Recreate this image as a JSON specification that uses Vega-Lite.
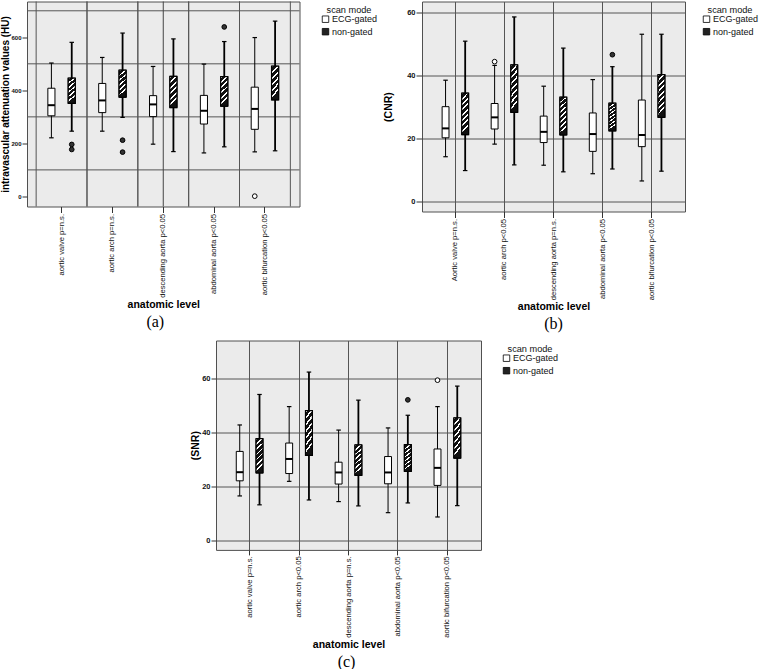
{
  "$schema": "https://vega.github.io/schema/vega-lite/v6.json",
  "padding": {"left": 0, "top": 0.5, "right": 0, "bottom": 0},
  "autosize": {"type": "pad"},
  "background": "white",
  "datasets": {
    "hu": [
      {"level": "aortic valve p=n.s.", "mode": "ECG-gated", "lo": 221, "q1": 304, "med": 344, "q3": 408, "hi": 503},
      {"level": "aortic valve p=n.s.", "mode": "non-gated", "lo": 246, "q1": 351, "med": 400, "q3": 446, "hi": 581},
      {"level": "aortic arch p=n.s.", "mode": "ECG-gated", "lo": 246, "q1": 316, "med": 362, "q3": 426, "hi": 524},
      {"level": "aortic arch p=n.s.", "mode": "non-gated", "lo": 298, "q1": 374, "med": 420, "q3": 476, "hi": 616},
      {"level": "descending aorta p<0.05", "mode": "ECG-gated", "lo": 197, "q1": 301, "med": 347, "q3": 380, "hi": 490},
      {"level": "descending aorta p<0.05", "mode": "non-gated", "lo": 169, "q1": 335, "med": 400, "q3": 453, "hi": 594},
      {"level": "abdominal aorta p<0.05", "mode": "ECG-gated", "lo": 164, "q1": 273, "med": 323, "q3": 381, "hi": 499},
      {"level": "abdominal aorta p<0.05", "mode": "non-gated", "lo": 187, "q1": 340, "med": 400, "q3": 452, "hi": 584},
      {"level": "aortic bifurcation p<0.05", "mode": "ECG-gated", "lo": 168, "q1": 253, "med": 330, "q3": 412, "hi": 599},
      {"level": "aortic bifurcation p<0.05", "mode": "non-gated", "lo": 172, "q1": 364, "med": 430, "q3": 491, "hi": 661}
    ],
    "hu_out": [
      {"level": "aortic valve p=n.s.", "mode": "non-gated", "v": 196},
      {"level": "aortic valve p=n.s.", "mode": "non-gated", "v": 177},
      {"level": "aortic arch p=n.s.", "mode": "non-gated", "v": 212},
      {"level": "aortic arch p=n.s.", "mode": "non-gated", "v": 167},
      {"level": "abdominal aorta p<0.05", "mode": "non-gated", "v": 639},
      {"level": "aortic bifurcation p<0.05", "mode": "ECG-gated", "v": 1}
    ],
    "cnr": [
      {"level": "Aortic valve p=n.s.", "mode": "ECG-gated", "lo": 14.2, "q1": 20.2, "med": 23.2, "q3": 30.1, "hi": 38.5},
      {"level": "Aortic valve p=n.s.", "mode": "non-gated", "lo": 9.8, "q1": 21.2, "med": 27, "q3": 34.4, "hi": 50.9},
      {"level": "aortic arch p<0.05", "mode": "ECG-gated", "lo": 18.2, "q1": 23.0, "med": 26.7, "q3": 31.1, "hi": 43.2},
      {"level": "aortic arch p<0.05", "mode": "non-gated", "lo": 11.6, "q1": 28.3, "med": 37, "q3": 43.4, "hi": 58.6},
      {"level": "descending aorta p=n.s.", "mode": "ECG-gated", "lo": 11.5, "q1": 18.7, "med": 22.1, "q3": 27.1, "hi": 36.6},
      {"level": "descending aorta p=n.s.", "mode": "non-gated", "lo": 9.4, "q1": 21.1, "med": 27, "q3": 33.1, "hi": 48.7},
      {"level": "abdominal aorta p<0.05", "mode": "ECG-gated", "lo": 8.8, "q1": 15.9, "med": 21.4, "q3": 28.1, "hi": 38.7},
      {"level": "abdominal aorta p<0.05", "mode": "non-gated", "lo": 10.3, "q1": 22.4, "med": 27, "q3": 31.2, "hi": 42.8},
      {"level": "aortic bifurcation p<0.05", "mode": "ECG-gated", "lo": 6.5, "q1": 17.4, "med": 21.1, "q3": 32.2, "hi": 53.1},
      {"level": "aortic bifurcation p<0.05", "mode": "non-gated", "lo": 9.6, "q1": 26.7, "med": 35, "q3": 40.3, "hi": 53.1}
    ],
    "cnr_out": [
      {"level": "aortic arch p<0.05", "mode": "ECG-gated", "v": 44.4},
      {"level": "abdominal aorta p<0.05", "mode": "non-gated", "v": 46.6}
    ],
    "snr": [
      {"level": "aortic valve p=n.s.", "mode": "ECG-gated", "lo": 16.5, "q1": 22.1, "med": 25.3, "q3": 33.0, "hi": 42.8},
      {"level": "aortic valve p=n.s.", "mode": "non-gated", "lo": 13.2, "q1": 25.0, "med": 31, "q3": 37.7, "hi": 54.1},
      {"level": "aortic arch p<0.05", "mode": "ECG-gated", "lo": 21.9, "q1": 24.8, "med": 30.2, "q3": 36.1, "hi": 49.6},
      {"level": "aortic arch p<0.05", "mode": "non-gated", "lo": 15.0, "q1": 31.5, "med": 40, "q3": 48.1, "hi": 62.4},
      {"level": "descending aorta p=n.s.", "mode": "ECG-gated", "lo": 14.4, "q1": 20.9, "med": 25.2, "q3": 29.0, "hi": 40.9},
      {"level": "descending aorta p=n.s.", "mode": "non-gated", "lo": 12.8, "q1": 24.1, "med": 30, "q3": 35.4, "hi": 52.0},
      {"level": "abdominal aorta p<0.05", "mode": "ECG-gated", "lo": 10.3, "q1": 21.0, "med": 25.2, "q3": 31.1, "hi": 41.7},
      {"level": "abdominal aorta p<0.05", "mode": "non-gated", "lo": 13.9, "q1": 25.6, "med": 30, "q3": 35.5, "hi": 46.4},
      {"level": "aortic bifurcation p<0.05", "mode": "ECG-gated", "lo": 8.7, "q1": 20.4, "med": 26.9, "q3": 33.9, "hi": 49.6},
      {"level": "aortic bifurcation p<0.05", "mode": "non-gated", "lo": 12.9, "q1": 30.5, "med": 38, "q3": 45.4, "hi": 57.2}
    ],
    "snr_out": [
      {"level": "abdominal aorta p<0.05", "mode": "non-gated", "v": 52.1},
      {"level": "aortic bifurcation p<0.05", "mode": "ECG-gated", "v": 59.4}
    ]
  },
  "spacing": 6,
  "bounds": "full",
  "resolve": {
    "scale": {"x": "independent", "y": "independent", "xOffset": "independent", "fill": "independent"},
    "legend": {"fill": "independent"}
  },
  "vconcat": [
    {
      "spacing": 122,
      "bounds": "flush",
      "resolve": {
        "scale": {"x": "independent", "y": "independent", "xOffset": "independent", "fill": "independent"},
        "legend": {"fill": "independent"}
      },
      "hconcat": [
        {
          "width": 272.5,
          "height": 205,
          "data": {"name": "hu"},
          "title": {"text": "(a)", "orient": "bottom", "offset": 4, "frame": "group", "anchor": "middle", "dx": -8, "font": "Liberation Serif", "fontSize": 16, "fontWeight": "normal", "color": "#000"},
          "layer": [
            {
              "data": {"values": [{"ref": 100}, {"ref": 300}, {"ref": 500}, {"ref": 700}]},
              "mark": {"type": "rule", "color": "#555", "strokeWidth": 1},
              "encoding": {"y": {"field": "ref", "type": "quantitative", "scale": {"domain": [-38, 735], "nice": false, "zero": false}}}
            },
            {
              "transform": [{"filter": "datum.mode === 'ECG-gated'"}],
              "mark": {"type": "rule", "color": "#555", "strokeWidth": 1},
              "encoding": {"x": {"field": "level", "type": "nominal", "bandPosition": 0, "scale": {"domain": ["aortic valve p=n.s.", "aortic arch p=n.s.", "descending aorta p<0.05", "abdominal aorta p<0.05", "aortic bifurcation p<0.05"], "paddingInner": 0, "paddingOuter": 0.18}}}
            },
            {
              "transform": [{"filter": "datum.mode === 'ECG-gated'"}],
              "mark": {"type": "rule", "color": "#555", "strokeWidth": 1},
              "encoding": {"x": {"field": "level", "type": "nominal", "bandPosition": 1, "scale": {"domain": ["aortic valve p=n.s.", "aortic arch p=n.s.", "descending aorta p<0.05", "abdominal aorta p<0.05", "aortic bifurcation p<0.05"], "paddingInner": 0, "paddingOuter": 0.18}}}
            },
            {
              "transform": [{"filter": "datum.mode === 'ECG-gated' && datum.level === 'descending aorta p<0.05'"}],
              "mark": {"type": "rule", "color": "#444", "strokeWidth": 1},
              "encoding": {"x": {"field": "level", "type": "nominal", "bandPosition": 0.5, "scale": {"domain": ["aortic valve p=n.s.", "aortic arch p=n.s.", "descending aorta p<0.05", "abdominal aorta p<0.05", "aortic bifurcation p<0.05"], "paddingInner": 0, "paddingOuter": 0.18}}}
            },
            {
              "mark": {"type": "rule", "color": "#000"},
              "encoding": {
                "x": {"field": "level", "type": "nominal", "scale": {"domain": ["aortic valve p=n.s.", "aortic arch p=n.s.", "descending aorta p<0.05", "abdominal aorta p<0.05", "aortic bifurcation p<0.05"], "paddingInner": 0, "paddingOuter": 0.18}},
                "xOffset": {"field": "mode", "type": "nominal", "scale": {"domain": ["ECG-gated", "non-gated"], "paddingInner": 0.65, "paddingOuter": 0.575}},
                "y": {"field": "lo", "type": "quantitative", "scale": {"domain": [-38, 735], "nice": false, "zero": false}},
                "y2": {"field": "hi"},
                "strokeWidth": {"condition": {"test": "datum.mode === 'non-gated'", "value": 1.8}, "value": 1}
              }
            },
            {
              "mark": {"type": "tick", "orient": "horizontal", "size": 4.5, "thickness": 1.2, "color": "#000", "opacity": 1},
              "encoding": {
                "x": {"field": "level", "type": "nominal", "scale": {"domain": ["aortic valve p=n.s.", "aortic arch p=n.s.", "descending aorta p<0.05", "abdominal aorta p<0.05", "aortic bifurcation p<0.05"], "paddingInner": 0, "paddingOuter": 0.18}},
                "xOffset": {"field": "mode", "type": "nominal", "scale": {"domain": ["ECG-gated", "non-gated"], "paddingInner": 0.65, "paddingOuter": 0.575}},
                "y": {"field": "lo", "type": "quantitative", "scale": {"domain": [-38, 735], "nice": false, "zero": false}}
              }
            },
            {
              "mark": {"type": "tick", "orient": "horizontal", "size": 4.5, "thickness": 1.2, "color": "#000", "opacity": 1},
              "encoding": {
                "x": {"field": "level", "type": "nominal", "scale": {"domain": ["aortic valve p=n.s.", "aortic arch p=n.s.", "descending aorta p<0.05", "abdominal aorta p<0.05", "aortic bifurcation p<0.05"], "paddingInner": 0, "paddingOuter": 0.18}},
                "xOffset": {"field": "mode", "type": "nominal", "scale": {"domain": ["ECG-gated", "non-gated"], "paddingInner": 0.65, "paddingOuter": 0.575}},
                "y": {"field": "hi", "type": "quantitative", "scale": {"domain": [-38, 735], "nice": false, "zero": false}}
              }
            },
            {
              "mark": {"type": "bar", "stroke": "#000", "strokeWidth": 1},
              "encoding": {
                "x": {"field": "level", "type": "nominal", "scale": {"domain": ["aortic valve p=n.s.", "aortic arch p=n.s.", "descending aorta p<0.05", "abdominal aorta p<0.05", "aortic bifurcation p<0.05"], "paddingInner": 0, "paddingOuter": 0.18},
                  "axis": {"title": "anatomic level", "labelAngle": 270, "labelFontSize": 7.6, "tickSize": 6, "labelPadding": 1, "titlePadding": 2, "titleFontSize": 10.5, "grid": false}},
                "xOffset": {"field": "mode", "type": "nominal", "scale": {"domain": ["ECG-gated", "non-gated"], "paddingInner": 0.65, "paddingOuter": 0.575}},
                "y": {"field": "q1", "type": "quantitative", "scale": {"domain": [-38, 735], "nice": false, "zero": false},
                  "axis": {"title": "intravascular attenuation values (HU)", "values": [0, 200, 400, 600], "grid": false, "tickSize": 5, "labelPadding": 1, "labelFontSize": 6, "labelFontWeight": "bold", "titlePadding": 0, "titleFontSize": 10}},
                "y2": {"field": "q3"},
                "fill": {"field": "mode", "type": "nominal", "scale": {"domain": ["ECG-gated", "non-gated"], "range": ["#ffffff", "#222222"]}, "legend": {"title": "scan mode"}}
              }
            },
            {
              "transform": [{"filter": "datum.mode === 'non-gated'"}],
              "mark": {"type": "bar", "stroke": "#000", "strokeWidth": 1.2, "fill": {"gradient": "linear", "x1": 0, "y1": 0, "x2": 0.23, "y2": 1, "stops": [{"offset": 0, "color": "#fff"}, {"offset": 0.06, "color": "#fff"}, {"offset": 0.06, "color": "#111"}, {"offset": 0.1667, "color": "#111"}, {"offset": 0.1667, "color": "#fff"}, {"offset": 0.2267, "color": "#fff"}, {"offset": 0.2267, "color": "#111"}, {"offset": 0.3333, "color": "#111"}, {"offset": 0.3333, "color": "#fff"}, {"offset": 0.3933, "color": "#fff"}, {"offset": 0.3933, "color": "#111"}, {"offset": 0.5, "color": "#111"}, {"offset": 0.5, "color": "#fff"}, {"offset": 0.56, "color": "#fff"}, {"offset": 0.56, "color": "#111"}, {"offset": 0.6667, "color": "#111"}, {"offset": 0.6667, "color": "#fff"}, {"offset": 0.7267, "color": "#fff"}, {"offset": 0.7267, "color": "#111"}, {"offset": 0.8333, "color": "#111"}, {"offset": 0.8333, "color": "#fff"}, {"offset": 0.8933, "color": "#fff"}, {"offset": 0.8933, "color": "#111"}, {"offset": 1, "color": "#111"}]}},
              "encoding": {
                "x": {"field": "level", "type": "nominal", "scale": {"domain": ["aortic valve p=n.s.", "aortic arch p=n.s.", "descending aorta p<0.05", "abdominal aorta p<0.05", "aortic bifurcation p<0.05"], "paddingInner": 0, "paddingOuter": 0.18}},
                "xOffset": {"field": "mode", "type": "nominal", "scale": {"domain": ["ECG-gated", "non-gated"], "paddingInner": 0.65, "paddingOuter": 0.575}},
                "y": {"field": "q1", "type": "quantitative", "scale": {"domain": [-38, 735], "nice": false, "zero": false}},
                "y2": {"field": "q3"}
              }
            },
            {
              "transform": [{"filter": "datum.mode === 'ECG-gated'"}],
              "mark": {"type": "tick", "orient": "horizontal", "size": 7, "thickness": 2, "color": "#000", "opacity": 1},
              "encoding": {
                "x": {"field": "level", "type": "nominal", "scale": {"domain": ["aortic valve p=n.s.", "aortic arch p=n.s.", "descending aorta p<0.05", "abdominal aorta p<0.05", "aortic bifurcation p<0.05"], "paddingInner": 0, "paddingOuter": 0.18}},
                "xOffset": {"field": "mode", "type": "nominal", "scale": {"domain": ["ECG-gated", "non-gated"], "paddingInner": 0.65, "paddingOuter": 0.575}},
                "y": {"field": "med", "type": "quantitative", "scale": {"domain": [-38, 735], "nice": false, "zero": false}}
              }
            },
            {
              "data": {"name": "hu_out"},
              "mark": {"type": "point", "shape": "circle", "filled": true, "size": 22, "stroke": "#000", "strokeWidth": 1, "opacity": 1},
              "encoding": {
                "x": {"field": "level", "type": "nominal", "scale": {"domain": ["aortic valve p=n.s.", "aortic arch p=n.s.", "descending aorta p<0.05", "abdominal aorta p<0.05", "aortic bifurcation p<0.05"], "paddingInner": 0, "paddingOuter": 0.18}},
                "xOffset": {"field": "mode", "type": "nominal", "scale": {"domain": ["ECG-gated", "non-gated"], "paddingInner": 0.65, "paddingOuter": 0.575}},
                "y": {"field": "v", "type": "quantitative", "scale": {"domain": [-38, 735], "nice": false, "zero": false}},
                "fill": {"condition": {"test": "datum.mode === 'ECG-gated'", "value": "#ffffff"}, "value": "#333333"}
              }
            }
          ]
        },
        {
          "width": 263,
          "height": 210,
          "data": {"name": "cnr"},
          "title": {"text": "(b)", "orient": "bottom", "offset": 4, "frame": "group", "anchor": "middle", "dx": 0, "font": "Liberation Serif", "fontSize": 16, "fontWeight": "normal", "color": "#000"},
          "layer": [
            {
              "mark": {"type": "rule", "color": "#000"},
              "encoding": {
                "x": {"field": "level", "type": "nominal", "scale": {"domain": ["Aortic valve p=n.s.", "aortic arch p<0.05", "descending aorta p=n.s.", "abdominal aorta p<0.05", "aortic bifurcation p<0.05"], "paddingInner": 0, "paddingOuter": 0.18}},
                "xOffset": {"field": "mode", "type": "nominal", "scale": {"domain": ["ECG-gated", "non-gated"], "paddingInner": 0.65, "paddingOuter": 0.575}},
                "y": {"field": "lo", "type": "quantitative", "scale": {"domain": [-3.2, 63.5], "nice": false, "zero": false}},
                "y2": {"field": "hi"},
                "strokeWidth": {"condition": {"test": "datum.mode === 'non-gated'", "value": 1.8}, "value": 1}
              }
            },
            {
              "mark": {"type": "tick", "orient": "horizontal", "size": 4.5, "thickness": 1.2, "color": "#000", "opacity": 1},
              "encoding": {
                "x": {"field": "level", "type": "nominal", "scale": {"domain": ["Aortic valve p=n.s.", "aortic arch p<0.05", "descending aorta p=n.s.", "abdominal aorta p<0.05", "aortic bifurcation p<0.05"], "paddingInner": 0, "paddingOuter": 0.18}},
                "xOffset": {"field": "mode", "type": "nominal", "scale": {"domain": ["ECG-gated", "non-gated"], "paddingInner": 0.65, "paddingOuter": 0.575}},
                "y": {"field": "lo", "type": "quantitative", "scale": {"domain": [-3.2, 63.5], "nice": false, "zero": false}}
              }
            },
            {
              "mark": {"type": "tick", "orient": "horizontal", "size": 4.5, "thickness": 1.2, "color": "#000", "opacity": 1},
              "encoding": {
                "x": {"field": "level", "type": "nominal", "scale": {"domain": ["Aortic valve p=n.s.", "aortic arch p<0.05", "descending aorta p=n.s.", "abdominal aorta p<0.05", "aortic bifurcation p<0.05"], "paddingInner": 0, "paddingOuter": 0.18}},
                "xOffset": {"field": "mode", "type": "nominal", "scale": {"domain": ["ECG-gated", "non-gated"], "paddingInner": 0.65, "paddingOuter": 0.575}},
                "y": {"field": "hi", "type": "quantitative", "scale": {"domain": [-3.2, 63.5], "nice": false, "zero": false}}
              }
            },
            {
              "mark": {"type": "bar", "stroke": "#000", "strokeWidth": 1},
              "encoding": {
                "x": {"field": "level", "type": "nominal", "scale": {"domain": ["Aortic valve p=n.s.", "aortic arch p<0.05", "descending aorta p=n.s.", "abdominal aorta p<0.05", "aortic bifurcation p<0.05"], "paddingInner": 0, "paddingOuter": 0.18},
                  "axis": {"title": "anatomic level", "labelAngle": 270, "labelFontSize": 7.6, "tickSize": 6, "labelPadding": 1, "titlePadding": 2, "titleFontSize": 10.5, "grid": true, "bandPosition": 0.5}},
                "xOffset": {"field": "mode", "type": "nominal", "scale": {"domain": ["ECG-gated", "non-gated"], "paddingInner": 0.65, "paddingOuter": 0.575}},
                "y": {"field": "q1", "type": "quantitative", "scale": {"domain": [-3.2, 63.5], "nice": false, "zero": false},
                  "axis": {"title": "(CNR)", "values": [0, 10, 20, 30, 40, 50, 60], "grid": true, "tickSize": 6, "labelPadding": 1, "labelFontSize": 7.5, "labelFontWeight": "bold", "titlePadding": 13.5, "titleFontSize": 10.5}},
                "y2": {"field": "q3"},
                "fill": {"field": "mode", "type": "nominal", "scale": {"domain": ["ECG-gated", "non-gated"], "range": ["#ffffff", "#222222"]}, "legend": {"title": "scan mode", "offset": 13}}
              }
            },
            {
              "transform": [{"filter": "datum.mode === 'non-gated'"}],
              "mark": {"type": "bar", "stroke": "#000", "strokeWidth": 1.2, "fill": {"gradient": "linear", "x1": 0, "y1": 0, "x2": 0.17, "y2": 1, "stops": [{"offset": 0, "color": "#fff"}, {"offset": 0.045, "color": "#fff"}, {"offset": 0.045, "color": "#111"}, {"offset": 0.125, "color": "#111"}, {"offset": 0.125, "color": "#fff"}, {"offset": 0.17, "color": "#fff"}, {"offset": 0.17, "color": "#111"}, {"offset": 0.25, "color": "#111"}, {"offset": 0.25, "color": "#fff"}, {"offset": 0.295, "color": "#fff"}, {"offset": 0.295, "color": "#111"}, {"offset": 0.375, "color": "#111"}, {"offset": 0.375, "color": "#fff"}, {"offset": 0.42, "color": "#fff"}, {"offset": 0.42, "color": "#111"}, {"offset": 0.5, "color": "#111"}, {"offset": 0.5, "color": "#fff"}, {"offset": 0.545, "color": "#fff"}, {"offset": 0.545, "color": "#111"}, {"offset": 0.625, "color": "#111"}, {"offset": 0.625, "color": "#fff"}, {"offset": 0.67, "color": "#fff"}, {"offset": 0.67, "color": "#111"}, {"offset": 0.75, "color": "#111"}, {"offset": 0.75, "color": "#fff"}, {"offset": 0.795, "color": "#fff"}, {"offset": 0.795, "color": "#111"}, {"offset": 0.875, "color": "#111"}, {"offset": 0.875, "color": "#fff"}, {"offset": 0.92, "color": "#fff"}, {"offset": 0.92, "color": "#111"}, {"offset": 1, "color": "#111"}]}},
              "encoding": {
                "x": {"field": "level", "type": "nominal", "scale": {"domain": ["Aortic valve p=n.s.", "aortic arch p<0.05", "descending aorta p=n.s.", "abdominal aorta p<0.05", "aortic bifurcation p<0.05"], "paddingInner": 0, "paddingOuter": 0.18}},
                "xOffset": {"field": "mode", "type": "nominal", "scale": {"domain": ["ECG-gated", "non-gated"], "paddingInner": 0.65, "paddingOuter": 0.575}},
                "y": {"field": "q1", "type": "quantitative", "scale": {"domain": [-3.2, 63.5], "nice": false, "zero": false}},
                "y2": {"field": "q3"}
              }
            },
            {
              "transform": [{"filter": "datum.mode === 'ECG-gated'"}],
              "mark": {"type": "tick", "orient": "horizontal", "size": 7, "thickness": 2, "color": "#000", "opacity": 1},
              "encoding": {
                "x": {"field": "level", "type": "nominal", "scale": {"domain": ["Aortic valve p=n.s.", "aortic arch p<0.05", "descending aorta p=n.s.", "abdominal aorta p<0.05", "aortic bifurcation p<0.05"], "paddingInner": 0, "paddingOuter": 0.18}},
                "xOffset": {"field": "mode", "type": "nominal", "scale": {"domain": ["ECG-gated", "non-gated"], "paddingInner": 0.65, "paddingOuter": 0.575}},
                "y": {"field": "med", "type": "quantitative", "scale": {"domain": [-3.2, 63.5], "nice": false, "zero": false}}
              }
            },
            {
              "data": {"name": "cnr_out"},
              "mark": {"type": "point", "shape": "circle", "filled": true, "size": 22, "stroke": "#000", "strokeWidth": 1, "opacity": 1},
              "encoding": {
                "x": {"field": "level", "type": "nominal", "scale": {"domain": ["Aortic valve p=n.s.", "aortic arch p<0.05", "descending aorta p=n.s.", "abdominal aorta p<0.05", "aortic bifurcation p<0.05"], "paddingInner": 0, "paddingOuter": 0.18}},
                "xOffset": {"field": "mode", "type": "nominal", "scale": {"domain": ["ECG-gated", "non-gated"], "paddingInner": 0.65, "paddingOuter": 0.575}},
                "y": {"field": "v", "type": "quantitative", "scale": {"domain": [-3.2, 63.5], "nice": false, "zero": false}},
                "fill": {"condition": {"test": "datum.mode === 'ECG-gated'", "value": "#ffffff"}, "value": "#333333"}
              }
            }
          ]
        }
      ]
    },
    {
      "spacing": 0,
      "bounds": "flush",
      "resolve": {
        "scale": {"x": "independent", "y": "independent", "xOffset": "independent", "fill": "independent"},
        "legend": {"fill": "independent"}
      },
      "hconcat": [
        {
          "width": 188.8,
          "height": 10,
          "view": {"fill": null, "stroke": null},
          "data": {"values": []},
          "mark": {"type": "point", "opacity": 0}
        },
        {
          "width": 265,
          "height": 209.4,
          "data": {"name": "snr"},
          "title": {"text": "(c)", "orient": "bottom", "offset": 4, "frame": "group", "anchor": "middle", "dx": -2, "font": "Liberation Serif", "fontSize": 16, "fontWeight": "normal", "color": "#000"},
          "layer": [
            {
              "mark": {"type": "rule", "color": "#000"},
              "encoding": {
                "x": {"field": "level", "type": "nominal", "scale": {"domain": ["aortic valve p=n.s.", "aortic arch p<0.05", "descending aorta p=n.s.", "abdominal aorta p<0.05", "aortic bifurcation p<0.05"], "paddingInner": 0, "paddingOuter": 0.18}},
                "xOffset": {"field": "mode", "type": "nominal", "scale": {"domain": ["ECG-gated", "non-gated"], "paddingInner": 0.65, "paddingOuter": 0.575}},
                "y": {"field": "lo", "type": "quantitative", "scale": {"domain": [-3.5, 74.1], "nice": false, "zero": false}},
                "y2": {"field": "hi"},
                "strokeWidth": {"condition": {"test": "datum.mode === 'non-gated'", "value": 1.8}, "value": 1}
              }
            },
            {
              "mark": {"type": "tick", "orient": "horizontal", "size": 4.5, "thickness": 1.2, "color": "#000", "opacity": 1},
              "encoding": {
                "x": {"field": "level", "type": "nominal", "scale": {"domain": ["aortic valve p=n.s.", "aortic arch p<0.05", "descending aorta p=n.s.", "abdominal aorta p<0.05", "aortic bifurcation p<0.05"], "paddingInner": 0, "paddingOuter": 0.18}},
                "xOffset": {"field": "mode", "type": "nominal", "scale": {"domain": ["ECG-gated", "non-gated"], "paddingInner": 0.65, "paddingOuter": 0.575}},
                "y": {"field": "lo", "type": "quantitative", "scale": {"domain": [-3.5, 74.1], "nice": false, "zero": false}}
              }
            },
            {
              "mark": {"type": "tick", "orient": "horizontal", "size": 4.5, "thickness": 1.2, "color": "#000", "opacity": 1},
              "encoding": {
                "x": {"field": "level", "type": "nominal", "scale": {"domain": ["aortic valve p=n.s.", "aortic arch p<0.05", "descending aorta p=n.s.", "abdominal aorta p<0.05", "aortic bifurcation p<0.05"], "paddingInner": 0, "paddingOuter": 0.18}},
                "xOffset": {"field": "mode", "type": "nominal", "scale": {"domain": ["ECG-gated", "non-gated"], "paddingInner": 0.65, "paddingOuter": 0.575}},
                "y": {"field": "hi", "type": "quantitative", "scale": {"domain": [-3.5, 74.1], "nice": false, "zero": false}}
              }
            },
            {
              "mark": {"type": "bar", "stroke": "#000", "strokeWidth": 1},
              "encoding": {
                "x": {"field": "level", "type": "nominal", "scale": {"domain": ["aortic valve p=n.s.", "aortic arch p<0.05", "descending aorta p=n.s.", "abdominal aorta p<0.05", "aortic bifurcation p<0.05"], "paddingInner": 0, "paddingOuter": 0.18},
                  "axis": {"title": "anatomic level", "labelAngle": 270, "labelFontSize": 7.6, "tickSize": 5, "labelPadding": 1, "titlePadding": 2, "titleFontSize": 10.5, "grid": true, "bandPosition": 0.5}},
                "xOffset": {"field": "mode", "type": "nominal", "scale": {"domain": ["ECG-gated", "non-gated"], "paddingInner": 0.65, "paddingOuter": 0.575}},
                "y": {"field": "q1", "type": "quantitative", "scale": {"domain": [-3.5, 74.1], "nice": false, "zero": false},
                  "axis": {"title": "(SNR)", "values": [0, 20, 40, 60], "grid": true, "tickSize": 5, "labelPadding": 1, "labelFontSize": 7.5, "labelFontWeight": "bold", "titlePadding": 1, "titleFontSize": 10.5}},
                "y2": {"field": "q3"},
                "fill": {"field": "mode", "type": "nominal", "scale": {"domain": ["ECG-gated", "non-gated"], "range": ["#ffffff", "#222222"]}, "legend": {"title": "scan mode"}}
              }
            },
            {
              "transform": [{"filter": "datum.mode === 'non-gated'"}],
              "mark": {"type": "bar", "stroke": "#000", "strokeWidth": 1.2, "fill": {"gradient": "linear", "x1": 0, "y1": 0, "x2": 0.2, "y2": 1, "stops": [{"offset": 0, "color": "#fff"}, {"offset": 0.05, "color": "#fff"}, {"offset": 0.05, "color": "#111"}, {"offset": 0.1429, "color": "#111"}, {"offset": 0.1429, "color": "#fff"}, {"offset": 0.1929, "color": "#fff"}, {"offset": 0.1929, "color": "#111"}, {"offset": 0.2857, "color": "#111"}, {"offset": 0.2857, "color": "#fff"}, {"offset": 0.3357, "color": "#fff"}, {"offset": 0.3357, "color": "#111"}, {"offset": 0.4286, "color": "#111"}, {"offset": 0.4286, "color": "#fff"}, {"offset": 0.4786, "color": "#fff"}, {"offset": 0.4786, "color": "#111"}, {"offset": 0.5714, "color": "#111"}, {"offset": 0.5714, "color": "#fff"}, {"offset": 0.6214, "color": "#fff"}, {"offset": 0.6214, "color": "#111"}, {"offset": 0.7143, "color": "#111"}, {"offset": 0.7143, "color": "#fff"}, {"offset": 0.7643, "color": "#fff"}, {"offset": 0.7643, "color": "#111"}, {"offset": 0.8571, "color": "#111"}, {"offset": 0.8571, "color": "#fff"}, {"offset": 0.9071, "color": "#fff"}, {"offset": 0.9071, "color": "#111"}, {"offset": 1, "color": "#111"}]}},
              "encoding": {
                "x": {"field": "level", "type": "nominal", "scale": {"domain": ["aortic valve p=n.s.", "aortic arch p<0.05", "descending aorta p=n.s.", "abdominal aorta p<0.05", "aortic bifurcation p<0.05"], "paddingInner": 0, "paddingOuter": 0.18}},
                "xOffset": {"field": "mode", "type": "nominal", "scale": {"domain": ["ECG-gated", "non-gated"], "paddingInner": 0.65, "paddingOuter": 0.575}},
                "y": {"field": "q1", "type": "quantitative", "scale": {"domain": [-3.5, 74.1], "nice": false, "zero": false}},
                "y2": {"field": "q3"}
              }
            },
            {
              "transform": [{"filter": "datum.mode === 'ECG-gated'"}],
              "mark": {"type": "tick", "orient": "horizontal", "size": 7, "thickness": 2, "color": "#000", "opacity": 1},
              "encoding": {
                "x": {"field": "level", "type": "nominal", "scale": {"domain": ["aortic valve p=n.s.", "aortic arch p<0.05", "descending aorta p=n.s.", "abdominal aorta p<0.05", "aortic bifurcation p<0.05"], "paddingInner": 0, "paddingOuter": 0.18}},
                "xOffset": {"field": "mode", "type": "nominal", "scale": {"domain": ["ECG-gated", "non-gated"], "paddingInner": 0.65, "paddingOuter": 0.575}},
                "y": {"field": "med", "type": "quantitative", "scale": {"domain": [-3.5, 74.1], "nice": false, "zero": false}}
              }
            },
            {
              "data": {"name": "snr_out"},
              "mark": {"type": "point", "shape": "circle", "filled": true, "size": 22, "stroke": "#000", "strokeWidth": 1, "opacity": 1},
              "encoding": {
                "x": {"field": "level", "type": "nominal", "scale": {"domain": ["aortic valve p=n.s.", "aortic arch p<0.05", "descending aorta p=n.s.", "abdominal aorta p<0.05", "aortic bifurcation p<0.05"], "paddingInner": 0, "paddingOuter": 0.18}},
                "xOffset": {"field": "mode", "type": "nominal", "scale": {"domain": ["ECG-gated", "non-gated"], "paddingInner": 0.65, "paddingOuter": 0.575}},
                "y": {"field": "v", "type": "quantitative", "scale": {"domain": [-3.5, 74.1], "nice": false, "zero": false}},
                "fill": {"condition": {"test": "datum.mode === 'ECG-gated'", "value": "#ffffff"}, "value": "#333333"}
              }
            }
          ]
        }
      ]
    }
  ],
  "config": {
    "font": "Liberation Sans",
    "view": {"fill": "#EBEBEB", "stroke": "#505050", "strokeWidth": 1},
    "axis": {"domain": false, "labelColor": "#111", "tickColor": "#333", "titleColor": "#000", "titleFontWeight": "bold", "gridColor": "#555", "gridOpacity": 1, "gridWidth": 1, "labelFont": "Liberation Sans", "titleFont": "Liberation Sans"},
    "legend": {"orient": "right", "offset": 17, "padding": 4, "titleAnchor": "middle", "titleFontSize": 9.2, "titleFontWeight": "normal", "titleColor": "#111", "titleFont": "Liberation Sans", "labelFont": "Liberation Sans", "labelFontSize": 9, "labelColor": "#111", "symbolType": "square", "symbolSize": 42, "symbolStrokeColor": "#000", "symbolStrokeWidth": 0.8, "labelOffset": 2, "titlePadding": 0, "rowPadding": 1.5}
  }
}
